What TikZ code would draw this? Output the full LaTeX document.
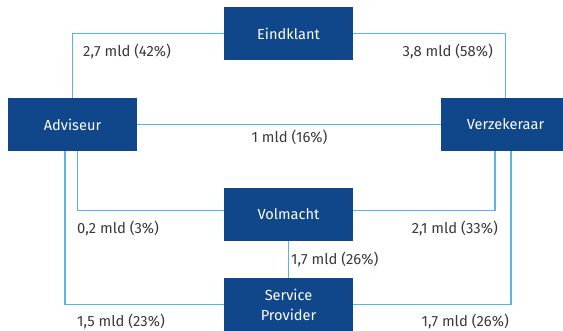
\documentclass[tikz,border=0pt]{standalone}
\usepackage{fontspec}
\setmainfont{Fira Sans}
\definecolor{boxblue}{HTML}{10468A}
\definecolor{lineblue}{HTML}{5AB4E5}
\definecolor{labelgrey}{HTML}{3A3A3A}
\tikzset{
  actor/.style={rectangle, fill=boxblue, text=white, minimum width=129pt, minimum height=53pt, inner sep=0pt, align=center, font=\fontsize{14.6}{20}\selectfont},
  flow/.style={draw=lineblue, line width=1.2pt},
  amount/.style={text=labelgrey, inner sep=0pt, font=\fontsize{14.8}{16}\selectfont}
}
\begin{document}
\begin{tikzpicture}[x=1pt,y=-1pt]
\useasboundingbox (0,0) rectangle (563,331);
\clip (0,0) rectangle (563,331);
\node[actor] (E) at (288.5,33.5) {Eindklant};
\node[actor] (A) at (72.5,124.5) {Adviseur};
\node[actor] (V) at (505.5,124.5) {Verzekeraar};
\node[actor] (Vol) at (288.5,214.5) {Volmacht};
\node[actor] (SP) at (288.5,304.5) {Service\\Provider};
\draw[flow] (E.west) -| (A.north);
\draw[flow] (E.east) -| (V.north);
\draw[flow] (A.east) -- (V.west);
\draw[flow] ([xshift=5pt]A.south) |- ([yshift=4pt]Vol.west);
\draw[flow] ([xshift=-7.5pt]A.south) |- (SP.west);
\draw[flow] ([xshift=-10.5pt]V.south) |- ([yshift=4pt]Vol.east);
\draw[flow] ([xshift=5.5pt]V.south) |- (SP.east);
\draw[flow] (Vol.south) -- (SP.north);
\node[amount, anchor=west] (l1) at (83,51.7) {2,7 mld (42\%)};
\node[amount, anchor=east] (l2) at (493,51.7) {3,8 mld (58\%)};
\node[amount] (l3) at (289.5,137.3) {1 mld (16\%)};
\node[amount, anchor=west] (l4) at (77,228.3) {0,2 mld (3\%)};
\node[amount, anchor=east] (l5) at (498,228.3) {2,1 mld (33\%)};
\node[amount, anchor=west] (l6) at (291,259) {1,7 mld (26\%)};
\node[amount, anchor=west] (l7) at (77,321.3) {1,5 mld (23\%)};
\node[amount, anchor=east] (l8) at (509,321.3) {1,7 mld (26\%)};
\end{tikzpicture}
\end{document}
